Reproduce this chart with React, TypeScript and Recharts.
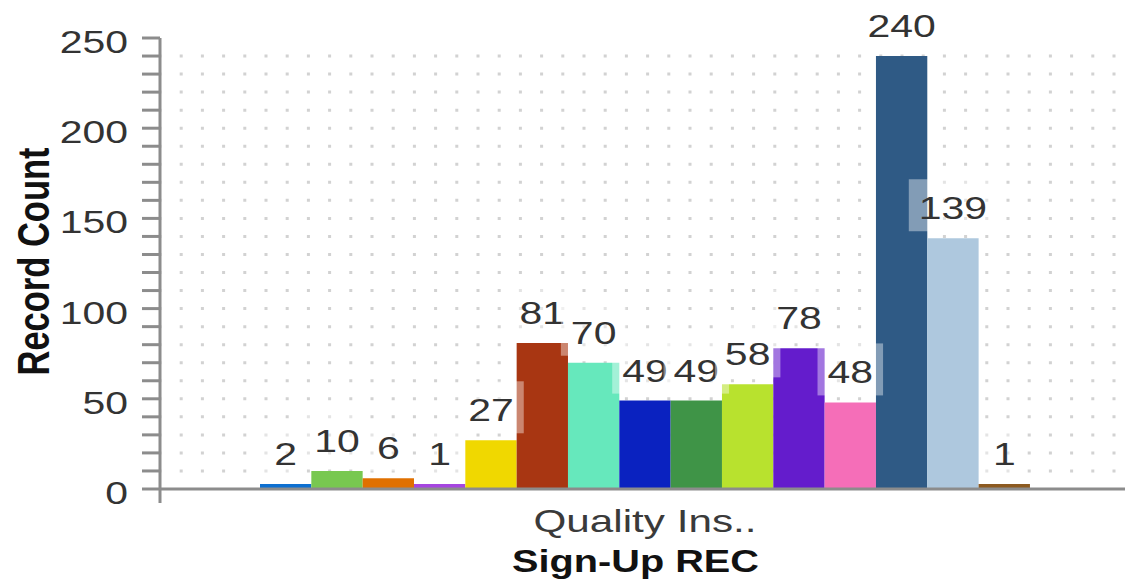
import React from 'react';
import { BarChart, Bar, XAxis, YAxis, CartesianGrid, ReferenceLine } from 'recharts';

const categories = ['Quality Ins..'];
const seriesKeys = ['s1', 's2', 's3', 's4', 's5', 's6', 's7', 's8', 's9', 's10', 's11', 's12', 's13', 's14', 's15'];
const seriesValues = [2, 10, 6, 1, 27, 81, 70, 49, 49, 58, 78, 48, 240, 139, 1];
const seriesColors = [
  '#0d6fd0', '#78c850', '#e07000', '#a646e0', '#f0d800', '#a83612', '#66e8bc', '#0a22c0',
  '#3f9447', '#b8e22e', '#641ccc', '#f56eb8', '#2f5a85', '#aec8de', '#8c5a20',
];
const yTicks = [0, 10, 20, 30, 40, 50, 60, 70, 80, 90, 100, 110, 120, 130, 140, 150, 160, 170, 180, 190, 200, 210, 220, 230, 240, 250];
const yLabelEvery = 50;
const xTitle = 'Sign-Up REC';
const yTitle = 'Record Count';

const data = categories.map((name) => {
  const row: Record<string, any> = { name };
  seriesKeys.forEach((k, i) => {
    row[k] = seriesValues[i];
  });
  return row;
});

const gridValues = yTicks.filter((v) => v > 0 && v < yTicks[yTicks.length - 1]);

const FONT = '"Liberation Sans", Arial, Helvetica, sans-serif';
const SX = 1.28;
const AXIS = '#8c8c8c';

const YTick = (props: any) => {
  const { x, y, payload } = props;
  if (payload.value % yLabelEvery !== 0) return <g />;
  return (
    <text
      transform={`translate(${x},${y + 15}) scale(${SX},1)`}
      x={0}
      y={0}
      textAnchor="end"
      fontFamily={FONT}
      fontSize={32}
      fill="#333"
    >
      {payload.value}
    </text>
  );
};

const XTick = (props: any) => {
  const { x, y, payload } = props;
  return (
    <text
      transform={`translate(${x},${y + 29}) scale(1.32,1)`}
      x={0}
      y={0}
      textAnchor="middle"
      fontFamily={FONT}
      fontSize={32}
      fill="#3a3a3a"
    >
      {payload.value}
    </text>
  );
};

const XTitle = (props: any) => {
  const vb = props.viewBox || {};
  const cx = vb.x + vb.width / 2 - 9.5;
  return (
    <text
      transform={`translate(${cx},${vb.y + 69}) scale(${SX},1)`}
      x={0}
      y={0}
      textAnchor="middle"
      fontFamily={FONT}
      fontWeight="bold"
      fontSize={31}
      fill="#111"
    >
      {xTitle}
    </text>
  );
};

const YTitle = (props: any) => {
  const vb = props.viewBox || {};
  const cy = vb.y + vb.height / 2 - 9;
  return (
    <text
      transform={`translate(49,${cy}) scale(1.26,1) rotate(-90)`}
      x={0}
      y={0}
      textAnchor="middle"
      fontFamily={FONT}
      fontWeight="bold"
      fontSize={34.5}
      fill="#111"
    >
      {yTitle}
    </text>
  );
};

const BarLabel = (props: any) => {
  const vb = props.viewBox || {};
  const x = props.x ?? vb.x;
  const y = props.y ?? vb.y;
  const width = props.width ?? vb.width;
  const height = props.height ?? vb.height;
  const value = props.value;
  const top = height < 0 ? y + height : y;
  const cx = x + width / 2;
  const base = top - 19;
  const txt = String(value);
  const tw = txt.length * 0.556 * 32 * SX;
  return (
    <g>
      <rect x={cx - tw / 2 - 10} y={base - 40} width={tw + 20} height={52} fill="#ffffff" fillOpacity={0.4} />
      <text
        transform={`translate(${cx},${base}) scale(${SX},1)`}
        x={0}
        y={0}
        textAnchor="middle"
        fontFamily={FONT}
        fontSize={32}
        fill="#333"
      >
        {txt}
      </text>
    </g>
  );
};

export default function App() {
  return (
    <div style={{ position: 'absolute', left: 0, top: 0, width: 1125, height: 585, background: '#fff', overflow: 'hidden' }}>
      <BarChart
        width={1125}
        height={585}
        data={data}
        margin={{ top: 38, right: -5, bottom: 0, left: 0 }}
        barCategoryGap="10%"
        barGap={0}
        barSize={51.33}
      >
        <CartesianGrid
          vertical={false}
          horizontalValues={gridValues}
          stroke="#d2d2d2"
          strokeWidth={3}
          strokeDasharray="3 18.2"
          strokeDashoffset={1.5}
        />
        <XAxis
          dataKey="name"
          height={82}
          axisLine={false}
          tickLine={false}
          tickSize={0}
          tickMargin={0}
          tick={<XTick />}
          label={(p: any) => <XTitle {...p} />}
        />
        <YAxis
          width={160}
          domain={[-7.76, 250]}
          ticks={yTicks}
          interval={0}
          allowDataOverflow
          tickSize={18}
          tickMargin={14}
          axisLine={{ stroke: AXIS, strokeWidth: 3 }}
          tickLine={{ stroke: AXIS, strokeWidth: 3 }}
          tick={<YTick />}
          label={(p: any) => <YTitle {...p} />}
        />
        {seriesKeys.map((k, i) => (
          <Bar
            key={k}
            dataKey={k}
            fill={seriesColors[i]}
            minPointSize={5}
            isAnimationActive={false}
            label={<BarLabel />}
          />
        ))}
        <ReferenceLine y={0} stroke={AXIS} strokeWidth={3} />
      </BarChart>
    </div>
  );
}
